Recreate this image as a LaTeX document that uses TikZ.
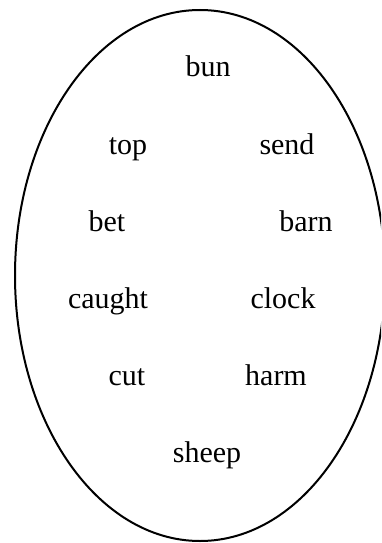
\documentclass[tikz,border=0pt]{standalone}
\usepackage{fontspec}
\setmainfont{Liberation Serif}
\begin{document}
\begin{tikzpicture}[x=1pt,y=-1pt,
        word/.style={anchor=base, inner sep=0pt, font=\fontsize{30}{36}\selectfont}]
        \useasboundingbox (0,0) rectangle (381,543);
        \clip (0,0) rectangle (381,543);

        \coordinate (O) at (200,275.5);
        \draw[line width=2pt] (O) ellipse [x radius=185, y radius=265.5];

    % Words
    \node[word] (bun) at (208,77) {bun};
    \node[word] (top) at (128,154) {top};
    \node[word] (send) at (287,154) {send};
    \node[word] (bet) at (107,231) {bet};
    \node[word] (barn) at (306,231) {barn};
    \node[word] (caught) at (108,308) {caught};
    \node[word] (clock) at (283,308) {clock};
    \node[word] (cut) at (127,385) {cut};
    \node[word] (harm) at (276,385) {harm};
    \node[word] (sheep) at (207,462) {sheep};
    \end{tikzpicture}
\end{document}
